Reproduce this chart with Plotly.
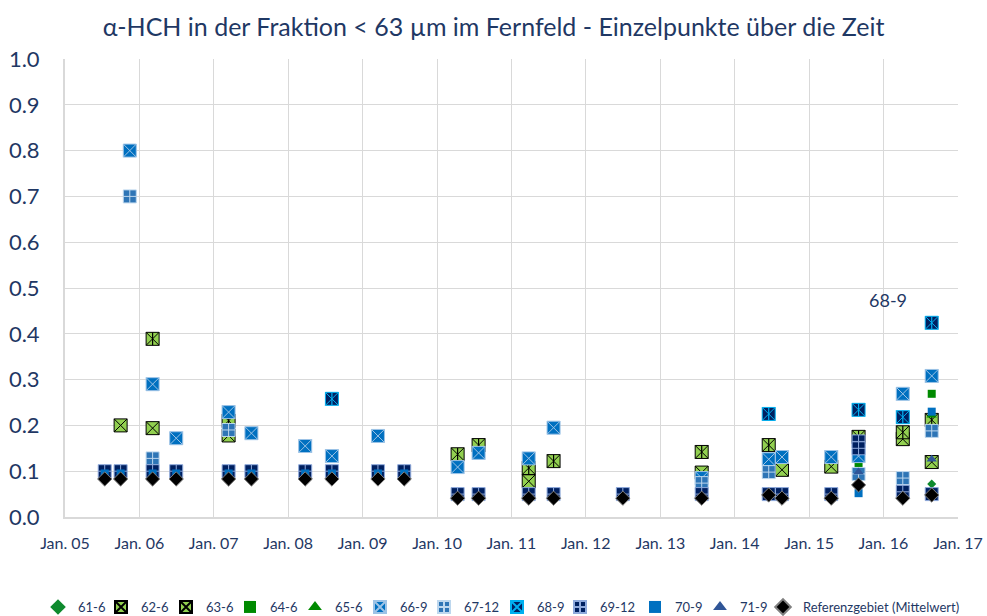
import plotly.graph_objects as go

# ---------------- data ----------------
s61_x = ["2016-08-25"]
s61_y = [0.072]

s62_x = ["2005-10-01", "2006-03-07", "2007-03-15", "2011-03-27", "2013-07-23",
         "2014-08-21", "2015-04-20", "2016-04-05", "2016-08-25"]
s62_y = [0.200, 0.194, 0.178, 0.078, 0.097, 0.103, 0.110, 0.170, 0.120]

s63_x = ["2006-03-07", "2007-03-15", "2010-04-12", "2010-07-24", "2011-03-27",
         "2011-07-27", "2013-07-23", "2014-06-17", "2015-09-01", "2016-04-05",
         "2016-08-25"]
s63_y = [0.389, 0.210, 0.137, 0.157, 0.107, 0.122, 0.142, 0.157, 0.175, 0.185, 0.212]

s64_x = ["2015-09-01", "2016-08-25"]
s64_y = [0.115, 0.269]

s65_x = ["2016-08-25"]
s65_y = [0.222]

s66_x = ["2005-11-15", "2006-03-07", "2006-07-01", "2007-03-15", "2007-07-05",
         "2008-03-25", "2008-08-03", "2009-03-17", "2010-04-12", "2010-07-24",
         "2011-03-27", "2011-07-27", "2013-07-23", "2014-06-17", "2014-08-21",
         "2015-04-20", "2015-09-01", "2016-04-05", "2016-08-25"]
s66_y = [0.800, 0.290, 0.172, 0.229, 0.183, 0.155, 0.133, 0.177, 0.109, 0.140,
         0.128, 0.195, 0.085, 0.126, 0.131, 0.131, 0.133, 0.269, 0.308]

s67_x = ["2005-11-15", "2006-03-07", "2007-03-15", "2013-07-23", "2014-06-17",
         "2015-09-01", "2016-04-05", "2016-08-25"]
s67_y = [0.700, 0.128, 0.190, 0.074, 0.098, 0.094, 0.085, 0.188]

s68_x = ["2008-08-03", "2014-06-17", "2015-09-01", "2016-04-05", "2016-08-25"]
s68_y = [0.258, 0.225, 0.234, 0.218, 0.424]

s69_x = ["2005-07-15", "2005-10-01", "2006-03-07", "2006-07-01", "2007-03-15",
         "2007-07-05", "2008-03-25", "2008-08-03", "2009-03-17", "2009-07-24",
         "2010-04-12", "2010-07-24", "2011-03-27", "2011-07-27", "2012-07-01",
         "2013-07-23", "2014-06-17", "2014-08-21", "2015-04-20", "2015-09-01",
         "2015-09-01", "2016-04-05", "2016-08-25"]
s69_y = [0.100, 0.100, 0.100, 0.100, 0.100, 0.100, 0.100, 0.100, 0.100, 0.100,
         0.050, 0.050, 0.050, 0.050, 0.050, 0.050, 0.050, 0.050, 0.050, 0.165,
         0.150, 0.055, 0.050]

s70_x = ["2005-07-15", "2005-10-01", "2006-03-07", "2006-07-01", "2007-03-15",
         "2007-07-05", "2008-03-25", "2008-08-03", "2009-03-17", "2009-07-24",
         "2015-09-01", "2016-08-25"]
s70_y = [0.095, 0.095, 0.095, 0.095, 0.095, 0.095, 0.095, 0.095, 0.095, 0.095,
         0.052, 0.230]

s71_x = ["2015-09-01", "2016-08-25"]
s71_y = [0.098, 0.126]

ref_x = ["2005-07-15", "2005-10-01", "2006-03-07", "2006-07-01", "2007-03-15",
         "2007-07-05", "2008-03-25", "2008-08-03", "2009-03-17", "2009-07-24",
         "2010-04-12", "2010-07-24", "2011-03-27", "2011-07-27", "2012-07-01",
         "2013-07-23", "2014-06-17", "2014-08-21", "2015-04-20", "2015-09-01",
         "2016-04-05", "2016-08-25"]
ref_y = [0.083, 0.083, 0.083, 0.083, 0.083, 0.083, 0.083, 0.083, 0.083, 0.083,
         0.041, 0.041, 0.041, 0.041, 0.041, 0.041, 0.048, 0.041, 0.041, 0.070,
         0.041, 0.048]

title_text = "α-HCH in der Fraktion < 63 µm im Fernfeld - Einzelpunkte über die Zeit"
navy = "#1F3864"

# horizontal pixel position of each legend entry's symbol (layout only)
legend_symbol_px = [58, 121, 186, 250, 315, 380, 444, 517, 580, 655, 720, 783]

fig = go.Figure()
legend_ids = []


def add(name, xs, ys, symbol, color, size, lcolor=None, lwidth=0, stem=None):
    k = len(legend_ids)
    lid = "legend" if k == 0 else f"legend{k + 1}"
    legend_ids.append(lid)
    fig.add_trace(go.Scatter(
        x=xs, y=ys, mode="markers", name=name, legendgroup=name, legend=lid,
        marker=dict(symbol=symbol, color=color, size=size,
                    line=dict(color=lcolor or color, width=lwidth)),
        hoverinfo="x+y+name"))
    if stem:
        fig.add_trace(go.Scatter(
            x=xs, y=ys, mode="markers", name=name, legendgroup=name,
            showlegend=False, legend=lid,
            marker=dict(symbol="line-ns", size=size * 0.7, color=stem,
                        line=dict(color=stem, width=1.2)),
            hoverinfo="skip"))


add("61-6", s61_x, s61_y, "diamond", "#0E8A2E", 7)
add("62-6", s62_x, s62_y, "square-x", "#92D050", 13, "#000000", 1)
add("63-6", s63_x, s63_y, "square-x", "#92D050", 13, "#000000", 1, stem="#000000")
add("64-6", s64_x, s64_y, "square", "#008A00", 8)
add("65-6", s65_x, s65_y, "triangle-up", "#008A00", 9)
add("66-9", s66_x, s66_y, "square-x", "#0070C0", 13, "#9DC3E6", 1)
add("67-12", s67_x, s67_y, "square-cross", "#2E75B6", 13, "#BDD7EE", 1)
add("68-9", s68_x, s68_y, "square-x", "#002060", 13, "#00B0F0", 1, stem="#00B0F0")
add("69-12", s69_x, s69_y, "square-cross", "#002060", 13, "#8FAADC", 1)
add("70-9", s70_x, s70_y, "square", "#0070C0", 8)
add("71-9", s71_x, s71_y, "triangle-up", "#2F5597", 9)
add("Referenzgebiet (Mittelwert)", ref_x, ref_y, "diamond", "#000000", 11, "#808080", 1)

fig.add_annotation(x="2016-01-25", y=0.474, text="68-9", showarrow=False,
                   font=dict(size=18, color=navy))

W, H = 987, 616
legend_layout = {}
for lid, px in zip(legend_ids, legend_symbol_px):
    legend_layout[lid] = dict(orientation="h", yref="container", xref="container",
                              x=(px - 20) / W, xanchor="left",
                              y=0.0146, yanchor="middle",
                              font=dict(size=13, color=navy), itemwidth=30,
                              itemsizing="constant", bgcolor="rgba(0,0,0,0)")

fig.update_layout(
    width=W, height=H,
    margin=dict(l=65, r=29, t=59, b=99, autoexpand=False),
    paper_bgcolor="white", plot_bgcolor="white",
    font=dict(family="Lato, Open Sans, sans-serif", color=navy),
    title=dict(text=title_text, x=0.5, xanchor="center", y=0.956, yanchor="middle",
               yref="container", font=dict(size=25, color=navy)),
    showlegend=True,
    **legend_layout,
)
fig.update_xaxes(type="date", range=["2005-01-01", "2017-01-01"],
                 tick0="2005-01-01", dtick="M12", tickformat="%b. %y",
                 showgrid=True, gridcolor="#D9D9D9", gridwidth=1.3,
                 showline=True, linecolor="#D9D9D9", linewidth=2,
                 ticks="", ticklabelstandoff=11, automargin=False,
                 tickfont=dict(size=16, color=navy), zeroline=False)
fig.update_yaxes(range=[0, 1.0], dtick=0.1, tickformat=".1f",
                 showgrid=True, gridcolor="#D9D9D9", gridwidth=1.3,
                 showline=True, linecolor="#D9D9D9", linewidth=2,
                 ticks="", ticklabelstandoff=19, automargin=False,
                 tickfont=dict(size=22, color=navy), zeroline=False)

fig.write_html("out.html",
               config={"displayModeBar": False},
               post_script="document.body.style.margin='0';"
                           "document.body.style.overflow='hidden';")
